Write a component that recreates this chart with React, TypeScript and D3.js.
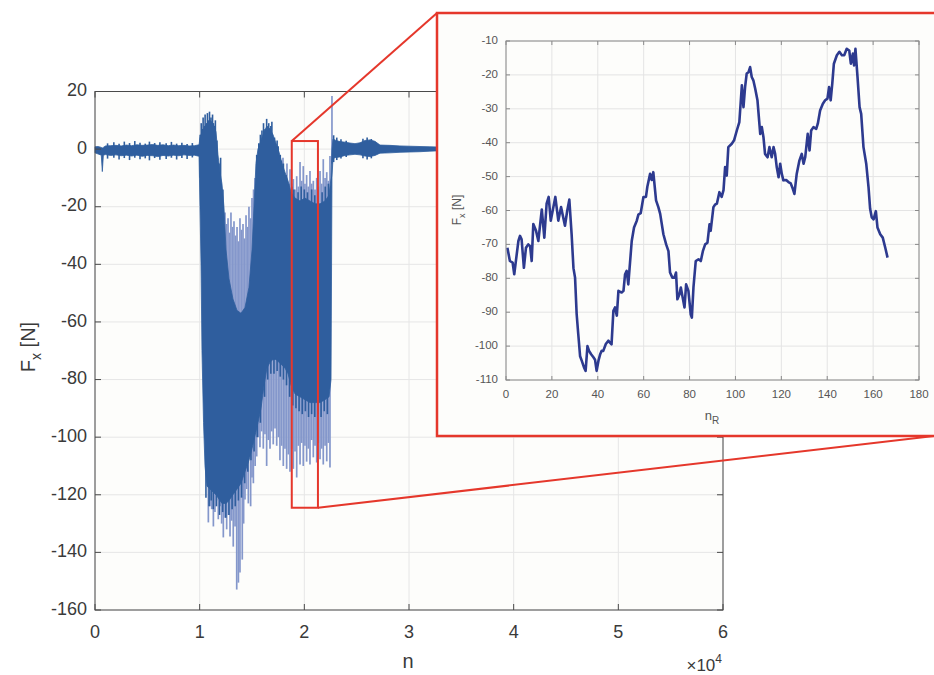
import * as d3 from 'd3';

// main signal, sample index n (x1e4) -> force Fx [N], dense core envelope
const envN = [
  0.0, 0.03, 0.06, 0.07, 0.08, 0.1, 0.15, 0.2, 0.25, 0.3, 0.35, 0.4, 0.45, 0.5, 0.55, 0.6, 0.65, 0.7, 0.75, 0.8,
  0.85, 0.9, 0.95, 0.994, 1.003, 1.013, 1.022, 1.037, 1.051, 1.07, 1.099, 1.127, 1.156, 1.175, 1.194, 1.213,
  1.232, 1.252, 1.28, 1.318, 1.357, 1.395, 1.433, 1.471, 1.5, 1.519, 1.538, 1.557, 1.586, 1.615, 1.643, 1.672,
  1.701, 1.729, 1.758, 1.787, 1.815, 1.844, 1.873, 1.911, 1.959, 2.006, 2.054, 2.102, 2.15, 2.197, 2.236, 2.255,
  2.264, 2.274, 2.302, 2.341, 2.389, 2.436, 2.484, 2.532, 2.58, 2.627, 2.675, 2.723, 2.818, 2.914, 3.01, 3.105,
  3.2, 3.296, 3.6, 4.0,
];
const envHi = [
  0.8, 0.9, 0.6, 0.4, 0.6, 1.1, 1.2, 1.3, 1.1, 1.4, 1.2, 1.5, 1.3, 1.4, 1.6, 1.3, 1.5, 1.2, 1.4, 1.2,
  1.3, 1.1, 1.2, 1.5, 4, 5, 6, 7, 8, 9, 10, 9, 6, -2, -8, -12,
  -20, -35, -45, -52, -56, -57, -55, -48, -35, -20, -5, 0, 3, 6, 8, 7,
  5, 2, -1, -5, -8, -11, -15, -17, -18, -17, -18, -19, -19, -18, -16, -10,
  0, 3.5, 3.0, 2.6, 2.4, 2.1, 1.9, 2.2, 3.0, 3.2, 2.7, 1.4, 1.3, 1.1, 1.0, 0.9,
  0.8, 0.7, 0.7, 0.7,
];
const envLo = [
  -1.3, -1.7, -2.1, -7.8, -2.1, -1.9, -2.2, -2.0, -2.3, -2.1, -2.4, -2.1, -2.5, -2.2, -2.3, -2.6, -2.2, -2.4, -2.1, -2.3,
  -2.0, -2.2, -2.1, -2.5, -20, -40, -70, -95, -110, -117, -118, -119, -120, -121, -122, -123,
  -123, -123, -122, -120, -118, -116, -112, -108, -104, -101, -98, -95, -90, -82, -76, -74,
  -73, -73, -74, -75, -76, -78, -82, -85, -86, -87, -88, -88, -88, -87, -86, -80,
  -10, -3.2, -2.9, -2.7, -2.2, -2.0, -1.8, -2.0, -2.4, -2.6, -2.2, -1.4, -1.3, -1.1, -1.0, -0.9,
  -0.7, -0.6, -0.6, -0.6,
];

// dense peaks along the edges of the core (dark)
const edgeUpN = [
  0.12, 0.18, 0.23, 0.28, 0.33, 0.38, 0.43, 0.48, 0.52, 0.57, 0.62, 0.68, 0.73, 0.78, 0.83, 0.88, 0.93,
  1.005, 1.015, 1.027, 1.033, 1.045, 1.052, 1.066, 1.074, 1.088, 1.094, 1.108, 1.123, 1.132, 1.145, 1.15, 1.165, 1.185, 1.2, 1.222,
  1.545, 1.565, 1.58, 1.595, 1.61, 1.625, 1.64, 1.66, 1.68, 1.69, 1.715, 1.74, 1.75, 1.77, 1.78, 1.8, 1.825, 1.85,
  1.88, 1.9, 1.94, 1.97, 2.0, 2.03, 2.07, 2.1, 2.13, 2.17, 2.2, 2.23,
  2.28, 2.31, 2.35, 2.4, 2.56, 2.6, 2.64,
];
const edgeUpF = [
  2.0, 2.4, 1.9, 2.6, 2.1, 2.8, 2.2, 1.9, 2.6, 2.1, 2.4, 2.0, 2.5, 1.9, 2.2, 1.8, 2.1,
  5, 9, 7, 11, 8, 12, 9, 12.5, 10, 13, 11, 12, 9, 8, 10, 3, -5, -3, -14,
  -2, 2, 5, 6.5, 9, 7, 10.5, 9, 8, 9.5, 4, 3, 1, -2, -4, -5, -9, -12,
  -13, -14, -15, -13, -14, -15, -14, -16, -14, -15, -13, -12,
  4.8, 4.0, 3.4, 2.9, 3.6, 4.0, 3.5,
];
const edgeDnN = [
  0.12, 0.18, 0.23, 0.28, 0.33, 0.38, 0.43, 0.48, 0.52, 0.57, 0.62, 0.68, 0.73, 0.78, 0.83, 0.88, 0.93,
  1.06, 1.09, 1.11, 1.13, 1.16, 1.19, 1.22, 1.25, 1.28, 1.31, 1.34, 1.37, 1.4, 1.43, 1.46, 1.49, 1.52, 1.55, 1.58,
  1.62, 1.65, 1.68, 1.71, 1.74, 1.77, 1.8, 1.83, 1.86, 1.89, 1.92, 1.95, 1.98, 2.01, 2.04, 2.07, 2.1, 2.13, 2.16, 2.19, 2.22,
  2.28, 2.31, 2.35, 2.4, 2.56, 2.6, 2.64,
];
const edgeDnF = [
  -3.3, -3.0, -3.6, -3.1, -3.8, -3.0, -3.5, -3.2, -3.9, -3.1, -3.7, -3.4, -3.0, -3.6, -3.1, -3.4, -2.9,
  -121, -124, -122, -125, -124, -127, -126, -128, -127, -125, -124, -122, -121, -116, -112, -108, -105, -100, -95,
  -86, -80, -78, -78, -77, -79, -80, -82, -86, -89, -90, -91, -92, -91, -93, -92, -93, -92, -93, -91, -92,
  -4.5, -3.8, -3.3, -2.7, -3.2, -3.6, -3.2,
];

// isolated peaks above the core (light)
const upN = [
  1.242, 1.257, 1.271, 1.285, 1.299, 1.314, 1.328, 1.343, 1.357, 1.371, 1.385, 1.4, 1.414, 1.428, 1.443, 1.457, 1.471, 1.486, 1.5, 1.515, 1.529,
  1.796, 1.834,
  1.863, 1.879, 1.895, 1.911, 1.927, 1.943, 1.959, 1.975, 1.99, 2.006, 2.022, 2.038, 2.054, 2.07, 2.086, 2.102, 2.118, 2.134, 2.15, 2.166, 2.181, 2.198, 2.214, 2.23, 2.245, 2.264,
];
const upF = [
  -22, -26, -24, -29, -22, -27, -25, -30, -27, -32, -24, -28, -26, -31, -23, -27, -20, -24, -17, -14, -10,
  -3, -5,
  -7, -12, -10.4, -14, -9.4, -13, -4.5, -11, -5.9, -12, -9, -13, -7.6, -12, -11, -14, -10, -13, -7.6, -12, -3.5, -10, -8, -11, -2.4, 18.4,
];

// isolated peaks below the core (light)
const dnN = [
  1.083, 1.099, 1.115, 1.131, 1.146, 1.162, 1.178, 1.194, 1.21, 1.226, 1.242, 1.258, 1.274, 1.29, 1.306, 1.321, 1.338, 1.354, 1.37, 1.385,
  1.407, 1.42, 1.433, 1.449, 1.465, 1.487, 1.5, 1.513, 1.53, 1.545, 1.56, 1.576, 1.592, 1.608, 1.624, 1.64, 1.656, 1.672, 1.688, 1.703,
  1.72, 1.736, 1.752, 1.767, 1.783, 1.799, 1.815, 1.831, 1.847, 1.863, 1.879, 1.895, 1.911, 1.927, 1.943, 1.959, 1.975, 1.99, 2.006, 2.022,
  2.038, 2.054, 2.07, 2.086, 2.102, 2.118, 2.134, 2.15, 2.166, 2.181, 2.198, 2.214, 2.23, 2.245,
];
const dnF = [
  -129.6, -124, -125, -131, -126, -122, -128.5, -124, -130, -134.8, -128, -132, -127, -134.5, -129, -138, -131, -152.9, -150.5, -147,
  -142.5, -130, -121.6, -118, -123, -124, -114, -116, -110, -106.7, -100, -103.5, -98, -104, -99, -110, -101, -104, -98, -102.5,
  -97, -103, -100, -108, -103, -110, -104, -111, -106, -112, -104, -111, -105, -114, -103, -109.5, -102, -110, -103, -108.5,
  -104, -109.5, -101, -107, -103, -108.8, -102, -107.7, -104, -109.5, -103, -108.4, -102, -110.5,
];

// zoomed section, sample index nR -> Fx [N]
const insetN = [
  0.6, 1.7, 2.9, 3.6, 4.4, 5.4, 6.1, 6.8, 7.8, 8.7, 9.7, 10.5, 11.2, 11.9, 13.1, 14.1, 15.6, 16.7, 17.7, 18.6,
  19.5, 21.5, 22.8, 24, 25.7, 26.7, 27.6, 28.6, 29.4, 30.1, 30.8, 31.5, 32.3, 33.0, 34.0, 34.7, 35.5, 36.2, 37.1, 38.1,
  38.8, 39.5, 40.3, 41.0, 41.7, 42.4, 43.5, 44.6, 45.3, 46.0, 46.8, 47.5, 48.3, 49.0, 50.4, 51.2, 51.9, 52.6, 53.3, 54.8,
  55.8, 57.0, 57.7, 58.7, 59.9, 61.0, 61.6, 62.8, 63.5, 64.2, 65.4, 66.4, 67.2, 68.6, 69.8, 70.8, 71.5, 72.5, 73.4, 74.1,
  74.7, 75.6, 76.2, 77.0, 77.8, 78.5, 79.5, 80.5, 81.0, 81.7, 82.7, 83.9, 84.9, 85.8, 86.8, 87.8, 88.7, 89.2, 90.4, 91.1,
  91.9, 93.0, 94.0, 94.8, 95.5, 96.2, 96.9, 98.4, 99.4, 100.6, 101.7, 102.8, 103.5, 104.2, 104.9, 105.7, 106.4, 107.1, 107.8, 108.6,
  109.6, 110.8, 111.5, 112.2, 112.9, 114.0, 114.8, 115.8, 116.6, 117.3, 118.0, 118.8, 119.5, 120.2, 120.9, 122.1, 123.1, 124.1, 125.0, 125.7,
  126.7, 127.9, 128.9, 129.7, 130.4, 131.5, 132.3, 133.0, 134.0, 135.2, 135.9, 136.9, 138.1, 139.1, 140.1, 140.8, 141.5, 142.2, 142.9, 144.2,
  145.3, 146.4, 147.4, 148.5, 149.6, 150.3, 151.2, 151.7, 152.3, 153.2, 154.1, 154.8, 155.8, 157.0, 158.0, 158.7, 159.4, 160.2, 161.2, 161.9,
  163.1, 164.2, 165.3, 166.3,
];
const insetF = [
  -71, -74.9, -75.4, -78.8, -74.4, -69, -67.5, -68.5, -76.9, -71, -70, -70.5, -74.9, -64, -66, -69, -59.7, -68, -58, -56,
  -63, -56, -63, -59, -64.5, -60, -56.8, -67, -77, -79.8, -90.6, -96.5, -103, -104.3, -106.3, -107.3, -100, -101.4, -102.4, -103.3,
  -104, -107.3, -104.3, -102.5, -101.4, -101.4, -99.4, -98.4, -99, -99.5, -89.6, -88.6, -91, -83.7, -84.2, -83.7, -78.8, -77.8, -81.8, -69,
  -65, -63, -61.2, -60.8, -56, -56, -53, -49.2, -51, -48.7, -57, -59, -61, -67, -70, -72, -78.3, -79.8, -79.8, -78.3,
  -86.2, -84.7, -82.7, -85.7, -88.6, -81.8, -83.7, -90.6, -91.6, -82.7, -74.9, -74.4, -74.9, -72, -70, -69.5, -64.1, -66, -59, -58.3,
  -58, -54.6, -56, -54, -47.2, -49.7, -41.3, -40.3, -39.3, -36.4, -33.9, -23.1, -29.5, -23.6, -19.6, -19.2, -17.7, -20.6, -21.6, -24,
  -27.5, -37.4, -35.4, -38.3, -43.3, -44.3, -41.3, -44.3, -41.3, -43.3, -47.2, -50.2, -46.2, -49.2, -51.1, -51, -51.6, -52, -53.6, -55.1,
  -49.2, -45.2, -43.3, -46.2, -44.3, -37.4, -42.3, -36.4, -35.4, -35.9, -34.4, -30.5, -28.5, -27.5, -27, -23.6, -27.5, -22.6, -16.7, -14.2,
  -13.2, -14.2, -14.2, -12.3, -12.8, -16.7, -13.7, -17.2, -12.3, -20.6, -29.5, -31.5, -41.3, -46.2, -53.1, -59.5, -62, -62.6, -60.2, -65,
  -67, -68, -71, -73.9,
];

const mainXTicks = [0, 1, 2, 3, 4, 5, 6];
const mainYTicks = [20, 0, -20, -40, -60, -80, -100, -120, -140, -160];
const insetXTicks = [0, 20, 40, 60, 80, 100, 120, 140, 160, 180];
const insetYTicks = [-10, -20, -30, -40, -50, -60, -70, -80, -90, -100, -110];

// zoom window drawn on the main plot
const zoomN = [1.88, 2.13];
const zoomF = [2.8, -124.5];

const W = 934;
const H = 675;
const font = '"Liberation Sans", Arial, Helvetica, sans-serif';
const red = '#e5372b';
const dark = '#2f5e9e';
const light = '#8497cb';

const main = { left: 95, right: 723, top: 91.5, bottom: 610 };
const inset = { left: 506, right: 919, top: 41, bottom: 380 };
const frame = { x: 437, y: 13, w: 500, h: 423 };

export default function App() {
  const x = d3.scaleLinear().domain([0, 6]).range([main.left, main.right]);
  const y = d3.scaleLinear().domain([20, -160]).range([main.top, main.bottom]);
  const xi = d3.scaleLinear().domain([0, 180]).range([inset.left, inset.right]);
  const yi = d3.scaleLinear().domain([-10, -110]).range([inset.top, inset.bottom]);

  const hiAt = d3.scaleLinear().domain(envN).range(envHi);
  const loAt = d3.scaleLinear().domain(envN).range(envLo);
  const midAt = (n: number) => (hiAt(n) + loAt(n)) / 2;

  const env = envN.map((n, i) => ({ n, hi: envHi[i], lo: envLo[i] }));
  const core = d3.area<{ n: number; hi: number; lo: number }>()
    .x((d) => x(d.n))
    .y0((d) => y(d.lo))
    .y1((d) => y(d.hi))(env) || '';

  const zoomLine = d3.line<number>()
    .x((_, i) => xi(insetN[i]))
    .y((d) => yi(d))(insetF) || '';

  const spikes = (ns: number[], fs: number[], color: string, w: number, key: string) =>
    ns.map((n, i) => (
      <line key={key + i} x1={x(n)} x2={x(n)} y1={y(fs[i])} y2={y(midAt(n))} stroke={color} strokeWidth={w} />
    ));

  const zx0 = x(zoomN[0]);
  const zx1 = x(zoomN[1]);
  const zy0 = y(zoomF[0]);
  const zy1 = y(zoomF[1]);

  return (
    <svg width={W} height={H} style={{ position: 'absolute', left: 0, top: 0, background: '#fff' }} fontFamily={font}>
      {/* main axes */}
      <rect x={main.left} y={main.top} width={main.right - main.left} height={main.bottom - main.top} fill="#fdfdfb" />
      {mainXTicks.map((t) => (
        <line key={'gx' + t} x1={x(t)} x2={x(t)} y1={main.top} y2={main.bottom} stroke="#e6e6e6" />
      ))}
      {mainYTicks.map((t) => (
        <line key={'gy' + t} x1={main.left} x2={main.right} y1={y(t)} y2={y(t)} stroke="#e6e6e6" />
      ))}

      {spikes(upN, upF, light, 1.7, 'u')}
      {spikes(dnN, dnF, light, 1.7, 'd')}
      {spikes(edgeUpN, edgeUpF, dark, 1.6, 'eu')}
      {spikes(edgeDnN, edgeDnF, dark, 1.6, 'ed')}
      <path d={core} fill={dark} stroke={dark} strokeWidth={0.8} />

      <rect x={main.left} y={main.top} width={main.right - main.left} height={main.bottom - main.top} fill="none" stroke="#4a4a4a" strokeWidth={1} />
      {mainXTicks.map((t) => (
        <g key={'tx' + t}>
          <line x1={x(t)} x2={x(t)} y1={main.bottom} y2={main.bottom - 6} stroke="#4a4a4a" />
          <line x1={x(t)} x2={x(t)} y1={main.top} y2={main.top + 6} stroke="#4a4a4a" />
          <text x={x(t)} y={633} textAnchor="middle" dominantBaseline="middle" fontSize={18} fill="#3a3a3a">{t}</text>
        </g>
      ))}
      {mainYTicks.map((t) => (
        <g key={'ty' + t}>
          <line x1={main.left} x2={main.left + 6} y1={y(t)} y2={y(t)} stroke="#4a4a4a" />
          <line x1={main.right} x2={main.right - 6} y1={y(t)} y2={y(t)} stroke="#4a4a4a" />
          <text x={87} y={y(t)} textAnchor="end" dominantBaseline="middle" fontSize={18} fill="#3a3a3a">{t}</text>
        </g>
      ))}
      <text x={408} y={663} textAnchor="middle" dominantBaseline="middle" fontSize={20} fill="#3a3a3a">n</text>
      <text x={722} y={671} textAnchor="end" fontSize={17} fill="#3a3a3a">
        ×10<tspan dy={-8} fontSize={12}>4</tspan>
      </text>
      <text transform={`translate(35,347) rotate(-90)`} textAnchor="middle" fontSize={20} fill="#3a3a3a">
        F<tspan dy={6} fontSize={14}>x</tspan><tspan dy={-6}> [N]</tspan>
      </text>

      {/* zoom window and connectors */}
      <rect x={zx0} y={zy0} width={zx1 - zx0} height={zy1 - zy0} fill="none" stroke={red} strokeWidth={2} />
      <line x1={zx0} y1={zy0} x2={frame.x} y2={frame.y} stroke={red} strokeWidth={2} />
      <line x1={zx1} y1={zy1} x2={W} y2={frame.y + frame.h} stroke={red} strokeWidth={2} />

      {/* inset */}
      <rect x={frame.x} y={frame.y} width={frame.w} height={frame.h} fill="#fdfdfb" stroke={red} strokeWidth={2.5} />
      {insetXTicks.map((t) => (
        <line key={'igx' + t} x1={xi(t)} x2={xi(t)} y1={inset.top} y2={inset.bottom} stroke="#e4e4e4" />
      ))}
      {insetYTicks.map((t) => (
        <line key={'igy' + t} x1={inset.left} x2={inset.right} y1={yi(t)} y2={yi(t)} stroke="#e4e4e4" />
      ))}
      <path d={zoomLine} fill="none" stroke="#2d3a8f" strokeWidth={2.6} strokeLinejoin="round" />
      <rect x={inset.left} y={inset.top} width={inset.right - inset.left} height={inset.bottom - inset.top} fill="none" stroke="#8a8a8a" strokeWidth={1} />
      {insetXTicks.map((t) => (
        <g key={'itx' + t}>
          <line x1={xi(t)} x2={xi(t)} y1={inset.bottom} y2={inset.bottom - 4} stroke="#8a8a8a" />
          <line x1={xi(t)} x2={xi(t)} y1={inset.top} y2={inset.top + 4} stroke="#8a8a8a" />
          <text x={xi(t)} y={395} textAnchor="middle" dominantBaseline="middle" fontSize={11.5} fill="#555">{t}</text>
        </g>
      ))}
      {insetYTicks.map((t) => (
        <g key={'ity' + t}>
          <line x1={inset.left} x2={inset.left + 4} y1={yi(t)} y2={yi(t)} stroke="#8a8a8a" />
          <line x1={inset.right} x2={inset.right - 4} y1={yi(t)} y2={yi(t)} stroke="#8a8a8a" />
          <text x={498} y={yi(t)} textAnchor="end" dominantBaseline="middle" fontSize={11.5} fill="#555">{t}</text>
        </g>
      ))}
      <text x={712} y={420} textAnchor="middle" fontSize={13} fill="#555">
        n<tspan dy={4} fontSize={10}>R</tspan>
      </text>
      <text transform={`translate(461,210) rotate(-90)`} textAnchor="middle" fontSize={12} fill="#555">
        F<tspan dy={4} fontSize={9}>x</tspan><tspan dy={-4}> [N]</tspan>
      </text>
    </svg>
  );
}
